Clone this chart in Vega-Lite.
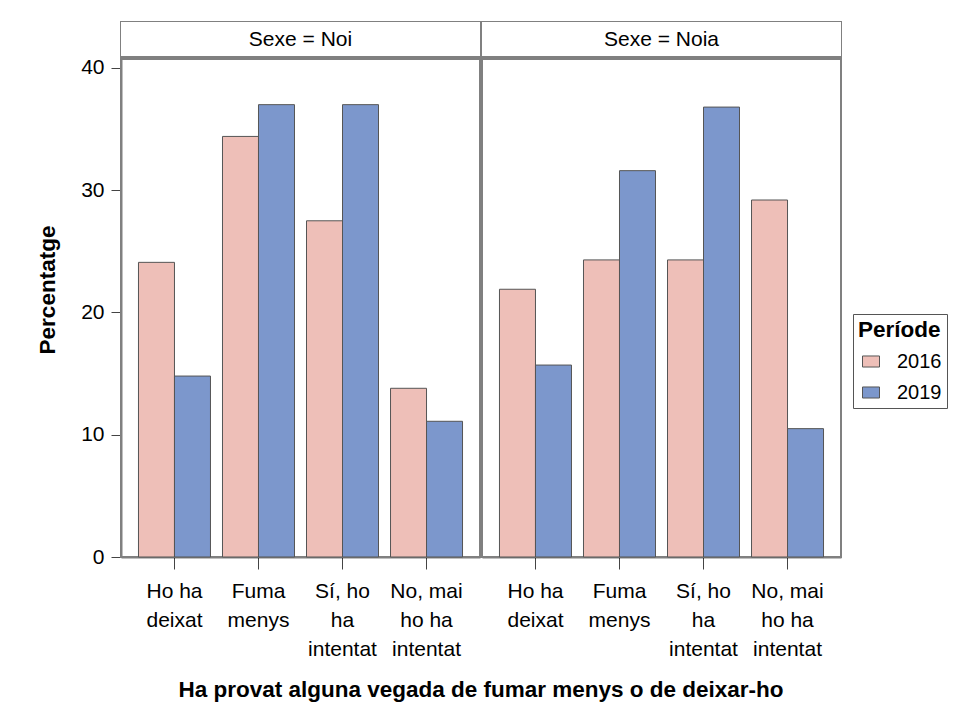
{
  "$schema": "https://vega.github.io/schema/vega-lite/v6.json",
  "padding": {"left": 36, "top": 21, "right": 5, "bottom": 5},
  "background": "white",
  "bounds": "flush",
  "data": {
    "values": [
      {"Sexe": "Noi", "Resposta": "Ho ha deixat", "Periode": "2016", "Percentatge": 24.1},
      {"Sexe": "Noi", "Resposta": "Ho ha deixat", "Periode": "2019", "Percentatge": 14.8},
      {"Sexe": "Noi", "Resposta": "Fuma menys", "Periode": "2016", "Percentatge": 34.4},
      {"Sexe": "Noi", "Resposta": "Fuma menys", "Periode": "2019", "Percentatge": 37.0},
      {"Sexe": "Noi", "Resposta": "Sí, ho ha intentat", "Periode": "2016", "Percentatge": 27.5},
      {"Sexe": "Noi", "Resposta": "Sí, ho ha intentat", "Periode": "2019", "Percentatge": 37.0},
      {"Sexe": "Noi", "Resposta": "No, mai ho ha intentat", "Periode": "2016", "Percentatge": 13.8},
      {"Sexe": "Noi", "Resposta": "No, mai ho ha intentat", "Periode": "2019", "Percentatge": 11.1},
      {"Sexe": "Noia", "Resposta": "Ho ha deixat", "Periode": "2016", "Percentatge": 21.9},
      {"Sexe": "Noia", "Resposta": "Ho ha deixat", "Periode": "2019", "Percentatge": 15.7},
      {"Sexe": "Noia", "Resposta": "Fuma menys", "Periode": "2016", "Percentatge": 24.3},
      {"Sexe": "Noia", "Resposta": "Fuma menys", "Periode": "2019", "Percentatge": 31.6},
      {"Sexe": "Noia", "Resposta": "Sí, ho ha intentat", "Periode": "2016", "Percentatge": 24.3},
      {"Sexe": "Noia", "Resposta": "Sí, ho ha intentat", "Periode": "2019", "Percentatge": 36.8},
      {"Sexe": "Noia", "Resposta": "No, mai ho ha intentat", "Periode": "2016", "Percentatge": 29.2},
      {"Sexe": "Noia", "Resposta": "No, mai ho ha intentat", "Periode": "2019", "Percentatge": 10.5}
    ]
  },
  "facet": {
    "column": {
      "field": "Sexe",
      "type": "nominal",
      "sort": ["Noi", "Noia"],
      "title": "Ha provat alguna vegada de fumar menys o de deixar-ho",
      "header": {
        "labels": false,
        "titleOrient": "bottom",
        "titleFont": "Liberation Sans",
        "titleFontSize": 22.5,
        "titleFontWeight": "bold",
        "titleColor": "black",
        "titlePadding": 10
      }
    }
  },
  "spacing": 2,
  "spec": {
    "width": 359,
    "height": 535,
    "layer": [
      {
        "mark": {"type": "rect", "fill": "white"},
        "encoding": {"y": {"datum": 40.82}, "y2": {"datum": 43.76}}
      },
      {
        "mark": {"type": "rule", "stroke": "#808080", "strokeWidth": 4},
        "encoding": {"y": {"datum": 40.82}}
      },
      {
        "transform": [{"aggregate": [{"op": "count", "as": "n"}], "groupby": ["Sexe"]}],
        "mark": {"type": "text", "font": "Liberation Sans", "fontSize": 21, "color": "black", "baseline": "middle", "text": {"expr": "'Sexe = ' + datum.Sexe"}},
        "encoding": {"y": {"datum": 42.29}}
      },
      {
        "mark": {"type": "bar", "stroke": "#555555", "strokeWidth": 1},
        "encoding": {
          "x": {
            "field": "Resposta",
            "type": "nominal",
            "sort": ["Ho ha deixat", "Fuma menys", "Sí, ho ha intentat", "No, mai ho ha intentat"],
            "scale": {"paddingInner": 0.143, "paddingOuter": 0.208},
            "title": null,
            "axis": {
              "labelAngle": 0,
              "labelExpr": "datum.value == 'Ho ha deixat' ? ['Ho ha', 'deixat'] : datum.value == 'Fuma menys' ? ['Fuma', 'menys'] : datum.value == 'Sí, ho ha intentat' ? ['Sí, ho', 'ha', 'intentat'] : ['No, mai', 'ho ha', 'intentat']",
              "labelBaseline": "top",
              "labelLineHeight": 29,
              "labelPadding": 11,
              "tickSize": 12
            }
          },
          "xOffset": {"field": "Periode", "type": "nominal"},
          "y": {
            "field": "Percentatge",
            "type": "quantitative",
            "scale": {"domain": [0, 43.76], "nice": false},
            "title": "Percentatge",
            "axis": {"values": [0, 10, 20, 30, 40], "tickSize": 10, "labelPadding": 7, "titlePadding": 21}
          },
          "color": {
            "field": "Periode",
            "type": "nominal",
            "scale": {"domain": ["2016", "2019"], "range": ["#EEBFB8", "#7C97CC"]},
            "legend": {
              "title": "Període",
              "orient": "none",
              "legendX": 732,
              "legendY": 292
            }
          }
        }
      }
    ]
  },
  "config": {
    "font": "Liberation Sans",
    "view": {"stroke": "#808080", "strokeWidth": 2},
    "axis": {
      "grid": false,
      "domainColor": "black",
      "domainWidth": 1.5,
      "tickColor": "#444444",
      "tickWidth": 1,
      "labelFont": "Liberation Sans",
      "labelFontSize": 21,
      "labelColor": "black",
      "titleFont": "Liberation Sans",
      "titleFontSize": 22.5,
      "titleFontWeight": "bold",
      "titleColor": "black"
    },
    "legend": {
      "strokeColor": "#555555",
      "padding": 5,
      "titleFont": "Liberation Sans",
      "titleFontSize": 22.5,
      "titleFontWeight": "bold",
      "titleColor": "black",
      "labelFont": "Liberation Sans",
      "labelFontSize": 20,
      "labelColor": "black",
      "labelOffset": 16,
      "symbolType": "M-1,-0.65H1V0.65H-1Z",
      "symbolSize": 289,
      "symbolStrokeColor": "#555555",
      "symbolStrokeWidth": 1,
      "symbolOffset": 3,
      "rowPadding": 11,
      "titlePadding": 10
    }
  }
}
